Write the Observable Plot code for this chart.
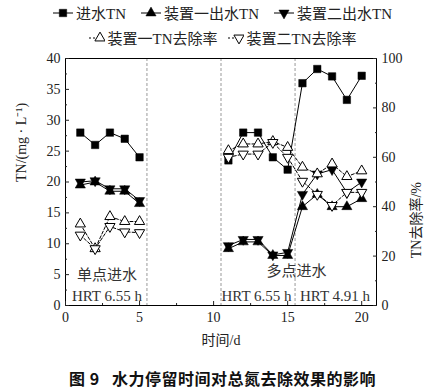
<!DOCTYPE html>
<html><head><meta charset="utf-8">
<script src="https://cdn.jsdelivr.net/npm/d3@7"></script>
<script src="https://cdn.jsdelivr.net/npm/@observablehq/plot@0.6"></script>
<style>
body{margin:0;background:#fff;font-family:"Liberation Serif","Noto Sans CJK SC",serif;width:445px;}
#legend{height:50px;}
.row{display:flex;justify-content:center;align-items:center;height:25px;font-size:15px;color:#222;white-space:nowrap;}
.item{display:flex;align-items:center;margin:0 5px;}
.item svg{margin-right:3px;display:block}
#chart svg{display:block}
#caption{margin-top:13px;text-align:center;font:bold 16px "Noto Sans CJK SC";line-height:20px;color:#111;letter-spacing:0.5px;}
</style></head><body>
<div id="legend"></div><div id="chart"></div><div id="caption">图 9&nbsp;&nbsp;&nbsp;水力停留时间对总氮去除效果的影响</div>
<script>
// ---- data ----
const days       = [1, 2, 3, 4, 5, 11, 12, 13, 14, 15, 16, 17, 18, 19, 20];
const inflowTN   = [28, 26, 28, 27, 24, 23.5, 28, 28, 24, 22, 36, 38.3, 37.1, 33.3, 37.2];
const outlet1TN  = [19.5, 20, 18.5, 18.5, 16.5, 9.2, 10.3, 10.3, 8.1, 8.1, 16, 18, 16, 16, 17.3];
const outlet2TN  = [20, 20.2, 18.9, 18.9, 17, 9.7, 10.7, 10.7, 8.2, 8.6, 18, 21.3, 22, 18.3, 20];
const removal1   = [33, 23, 36, 34, 34, 62.7, 65.4, 65.4, 66.4, 64, 56, 53.3, 57.3, 52.2, 54.5];
const removal2   = [28.5, 23, 32, 29.8, 29.5, 60, 61.3, 61.3, 66, 60, 50.3, 45, 40.5, 45.8, 45.8];
const separators = [5.5, 10.5, 15.5];
const xTicks     = [0, 5, 10, 15, 20];
const xMinor     = [2.5, 7.5, 12.5, 17.5];
const tnTicks    = [0, 5, 10, 15, 20, 25, 30, 35, 40];
const tnMinor    = [2.5, 7.5, 12.5, 17.5, 22.5, 27.5, 32.5, 37.5];
const rateTicks  = [0, 20, 40, 60, 80, 100];
const rateMinor  = [10, 30, 50, 70, 90];
const seriesNames = ["进水TN", "装置一出水TN", "装置二出水TN", "装置一TN去除率", "装置二TN去除率"];

const k = 40 / 100; // right axis (0–100 %) mapped onto left axis (0–40)
const rows = days.map((d, i) => ({
  day: d, seg: d <= 5 ? "a" : "b",
  inflow: inflowTN[i], out1: outlet1TN[i], out2: outlet2TN[i],
  r1: removal1[i] * k, r2: removal2[i] * k
}));

const serif = "'Liberation Serif','Noto Sans CJK SC',serif";
const textColor = "#222";

const notes = [
  {x: 2.8, y: 4.9, t: "单点进水"},
  {x: 2.8, y: 1.55, t: "HRT 6.55 h"},
  {x: 12.9, y: 1.55, t: "HRT 6.55 h"},
  {x: 15.6, y: 5.5, t: "多点进水"},
  {x: 18.2, y: 1.55, t: "HRT 4.91 h"}
];

const chart = Plot.plot({
  width: 445, height: 305,
  marginLeft: 65, marginRight: 69, marginTop: 8, marginBottom: 50,
  style: {fontFamily: serif, fontSize: "14px", color: textColor, background: "white"},
  x: {domain: [0, 21]},
  y: {domain: [0, 40]},
  marks: [
    Plot.ruleX(separators, {x: d => d, stroke: "#999", strokeDasharray: "3,2", strokeWidth: 1}),
    // lines
    Plot.lineY(rows, {x: "day", y: "inflow", z: "seg", stroke: "black", strokeWidth: 1}),
    Plot.lineY(rows, {x: "day", y: "out1", z: "seg", stroke: "black", strokeWidth: 1}),
    Plot.lineY(rows, {x: "day", y: "out2", z: "seg", stroke: "black", strokeWidth: 1}),
    Plot.lineY(rows, {x: "day", y: "r1", z: "seg", stroke: "black", strokeWidth: 1, strokeDasharray: "3,2"}),
    Plot.lineY(rows, {x: "day", y: "r2", z: "seg", stroke: "black", strokeWidth: 1, strokeDasharray: "3,2"}),
    // markers
    Plot.dot(rows, {x: "day", y: "inflow", symbol: "square", r: 4.2, fill: "black", stroke: "black", strokeWidth: 0.5}),
    Plot.dot(rows, {x: "day", y: "out1", symbol: "triangle", r: 3.8, fill: "black", stroke: "black", strokeWidth: 0.5}),
    Plot.dot(rows, {x: "day", y: "out2", symbol: "triangle", rotate: 180, r: 3.8, fill: "black", stroke: "black", strokeWidth: 0.5}),
    Plot.dot(rows, {x: "day", y: "r1", symbol: "triangle", r: 3.8, fill: "white", stroke: "black", strokeWidth: 1}),
    Plot.dot(rows, {x: "day", y: "r2", symbol: "triangle", rotate: 180, r: 3.8, fill: "white", stroke: "black", strokeWidth: 1}),
    // annotations
    Plot.text(notes, {x: "x", y: "y", text: "t", fontSize: 15, fill: "#333", fontFamily: serif}),
    // frame
    Plot.frame({stroke: "black", strokeWidth: 1}),
    // axes: labels
    Plot.axisX(xTicks, {anchor: "bottom", tickSize: 0, tickPadding: 7, label: null, fill: textColor}),
    Plot.axisY(tnTicks, {anchor: "left", tickSize: 0, tickPadding: 5, label: null, fill: textColor}),
    Plot.axisY(rateTicks.map(v => v * k), {anchor: "right", tickSize: 0, tickPadding: 5, label: null, fill: textColor, tickFormat: d => String(Math.round(d / k))}),
    // axes: inward ticks
    Plot.axisX(xTicks, {anchor: "bottom", tickSize: -4, tickFormat: () => "", label: null}),
    Plot.axisX(xMinor, {anchor: "bottom", tickSize: -2, tickFormat: () => "", label: null}),
    Plot.axisY(tnTicks, {anchor: "left", tickSize: -4, tickFormat: () => "", label: null}),
    Plot.axisY(tnMinor, {anchor: "left", tickSize: -2, tickFormat: () => "", label: null}),
    Plot.axisY(rateTicks.map(v => v * k), {anchor: "right", tickSize: -4, tickFormat: () => "", label: null}),
    Plot.axisY(rateMinor.map(v => v * k), {anchor: "right", tickSize: -2, tickFormat: () => "", label: null}),
    // axis titles
    Plot.text(["TN/(mg · L⁻¹)"], {frameAnchor: "left", dx: -44, rotate: -90, fontSize: 14, fill: textColor}),
    Plot.text(["TN去除率/%"], {frameAnchor: "right", dx: 40, rotate: -90, fontSize: 14, fill: textColor}),
    Plot.text(["时间/d"], {frameAnchor: "bottom", dy: 39, fontSize: 14, fill: textColor})
  ]
});
document.getElementById("chart").appendChild(chart);

// ---- legend ----
function sym(type, filled, rotate, dashed, leftOnly) {
  const p = d3.symbol(type, type === d3.symbolSquare ? 55 : 45)();
  const w = leftOnly ? 16 : 20;
  const cx = leftOnly ? 11 : 10;
  const line = leftOnly
    ? `<line x1="0" x2="6" y1="9" y2="9" stroke="black" stroke-width="1" ${dashed ? 'stroke-dasharray="2,2"' : ""}/>`
    : `<line x1="0" x2="20" y1="9" y2="9" stroke="black" stroke-width="1"/>`;
  return `<svg width="${w}" height="18">${line}<path d="${p}" transform="translate(${cx},9) rotate(${rotate})" fill="${filled ? "black" : "white"}" stroke="black" stroke-width="${filled ? 0.5 : 1}"/></svg>`;
}
const defs = [
  [d3.symbolSquare, true, 0, false, false],
  [d3.symbolTriangle, true, 0, false, false],
  [d3.symbolTriangle, true, 180, false, false],
  [d3.symbolTriangle, false, 0, true, true],
  [d3.symbolTriangle, false, 180, true, true]
];
const legend = document.getElementById("legend");
const row1 = document.createElement("div"); row1.className = "row";
const row2 = document.createElement("div"); row2.className = "row";
seriesNames.forEach((name, i) => {
  const it = document.createElement("div"); it.className = "item";
  it.innerHTML = sym(...defs[i]) + `<span>${name}</span>`;
  (i < 3 ? row1 : row2).appendChild(it);
});
row1.children[1].style.margin = "0 10px";
legend.appendChild(row1); legend.appendChild(row2);
</script>
</body></html>
